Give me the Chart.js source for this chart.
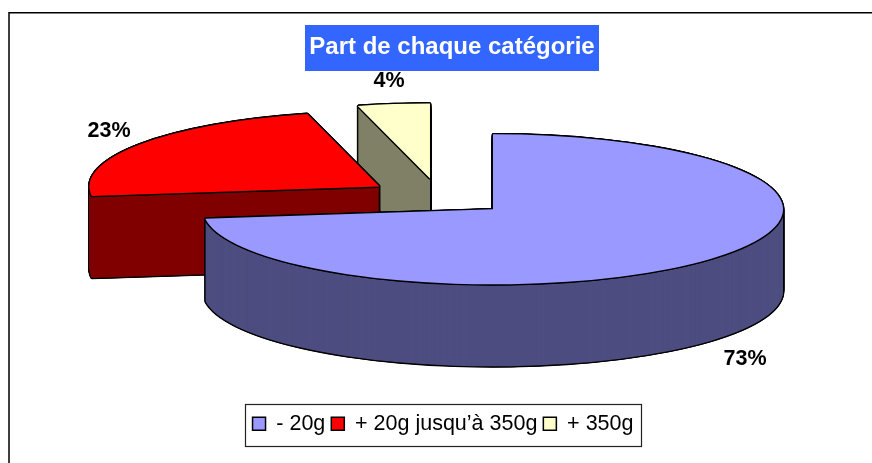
<!DOCTYPE html>
<html><head><meta charset="utf-8">
<style>html,body{margin:0;padding:0;background:#fff}canvas{display:block}#w{width:872px;height:463px;position:relative}</style>
<script src="https://cdn.jsdelivr.net/npm/chart.js@4/dist/chart.umd.min.js"></script>
</head><body><div id="w"><canvas id="c" width="872" height="463"></canvas></div>
<script>
const categories = ['- 20g', '+ 20g jusqu’à 350g', '+ 350g'];
const values = [73, 23, 4];
const topColors = ['#9999FF', '#FF0000', '#FFFFCC'];
const sideColors = ['#4D4D80', '#800000', '#808066'];
const labelPositions = [[745, 359], [109, 131], [389, 81]];
const titleText = 'Part de chaque catégorie';

const CX = 439, CY = 197, RADIUS = 290, TILT = 0.2586, DEPTH = 82, EXPLODE = 72, LINE = 1.4;

function drawArc(ctx, el, opts, dx, dy) {
  const mid = (el.startAngle + el.endAngle) / 2;
  ctx.save();
  ctx.translate(CX + dx, CY + dy);
  ctx.scale(1, TILT);
  ctx.translate(Math.cos(mid) * EXPLODE - el.x, Math.sin(mid) * EXPLODE - el.y);
  const saved = el.options;
  el.options = Object.assign(Object.create(saved), opts);
  el.draw(ctx);
  el.options = saved;
  ctx.restore();
}

const projection3d = {
  id: 'projection3d',
  beforeDatasetDraw(chart, args) {
    const ctx = chart.ctx;
    const arcs = args.meta.data;
    const ring = [[-LINE,0],[LINE,0],[0,-LINE],[0,LINE],[-.7*LINE,-.7*LINE],[.7*LINE,-.7*LINE],[-.7*LINE,.7*LINE],[.7*LINE,.7*LINE]];
    // back to front: yellow, red, blue
    [2, 1, 0].forEach(i => {
      const el = arcs[i];
      const black = {backgroundColor:'#000', borderWidth:0};
      for (let d = DEPTH; d >= 0; d -= 1) ring.forEach(o => drawArc(ctx, el, black, o[0], o[1] + d));
      const side = {backgroundColor:sideColors[i], borderWidth:0};
      for (let d = DEPTH; d >= 1; d -= 1) drawArc(ctx, el, side, 0, d);
      ring.forEach(o => drawArc(ctx, el, black, o[0], o[1]));
      drawArc(ctx, el, {backgroundColor:topColors[i], borderWidth:0}, 0, 0);
    });
    return false;
  },
  afterLayout(chart) {
    const t = chart.titleBlock; t.left = 305; t.right = 599; t.top = 25; t.bottom = 71; t.width = 294; t.height = 46;
    const l = chart.legend; l.left = 245; l.right = 641; l.top = 407; l.bottom = 446; l.width = 396; l.height = 39;
  },
  beforeDraw(chart) {
    const ctx = chart.ctx, t = chart.titleBlock, l = chart.legend;
    ctx.save();
    ctx.strokeStyle = '#000'; ctx.lineWidth = 1.5;
    ctx.strokeRect(9, 12.75, 900, 600);
    ctx.fillStyle = '#3366FF';
    ctx.fillRect(t.left, t.top, t.right - t.left, t.bottom - t.top);
    ctx.lineWidth = 1.2; ctx.strokeStyle = '#222';
    ctx.strokeRect(l.left + .5, 404.5, l.right - l.left, l.bottom - 404);
    ctx.restore();
  },
  afterDatasetsDraw(chart) {
    const ctx = chart.ctx;
    ctx.save();
    ctx.fillStyle = '#000'; ctx.font = 'bold 21.5px "Liberation Sans"';
    ctx.textAlign = 'center'; ctx.textBaseline = 'middle';
    values.forEach((v, i) => ctx.fillText(v + '%', labelPositions[i][0], labelPositions[i][1]));
    ctx.restore();
  }
};

new Chart(document.getElementById('c'), {
  type: 'pie',
  data: { labels: categories, datasets: [{ data: values, backgroundColor: topColors, borderWidth: 0 }] },
  options: {
    responsive: false, animation: false, radius: RADIUS, rotation: 0,
    plugins: {
      tooltip: {enabled:false},
      title: { display:true, text:titleText, color:'#fff', font:{family:'"Liberation Sans"', size:24, weight:'bold'}, padding:{top:8,bottom:8} },
      legend: { position:'bottom', labels:{ color:'#000', font:{family:'"Liberation Sans"', size:21.5}, boxWidth:13, boxHeight:13, padding:6,
        generateLabels: () => categories.map((c,i)=>({text:c, fillStyle:topColors[i], strokeStyle:'#000', lineWidth:1.5, hidden:false, index:i, fontColor:'#000'})) } }
    }
  },
  plugins: [projection3d]
});
</script></body></html>
